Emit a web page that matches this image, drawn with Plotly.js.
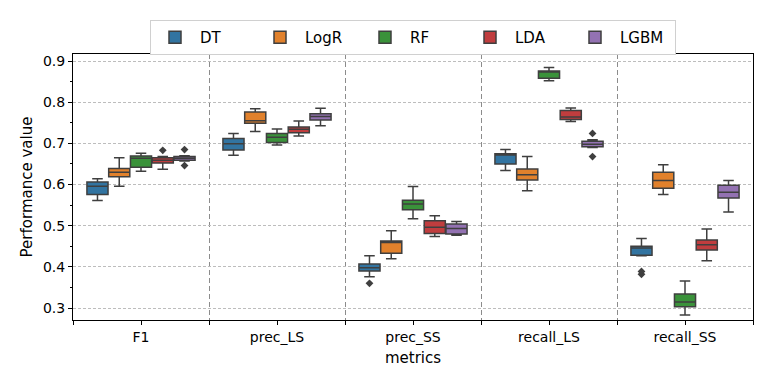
<!DOCTYPE html>
<html>
<head>
<meta charset="utf-8">
<script src="https://cdn.plot.ly/plotly-3.0.1.min.js"></script>
<style>
  html, body { margin: 0; padding: 0; background: #fff; }
  #chart { width: 772px; height: 386px; }
</style>
</head>
<body>
<div id="chart"></div>
<script>
const metrics = ["F1", "prec_LS", "prec_SS", "recall_LS", "recall_SS"];
const models = ["DT", "LogR", "RF", "LDA", "LGBM"];
const colors = ["#3274a1", "#e1812c", "#3a923a", "#c03d3e", "#9372b2"];

// one row per model, one column per metric
const lowerFence = [
  [0.561, 0.671, 0.376, 0.634, 0.427],
  [0.596, 0.729, 0.420, 0.585, 0.576],
  [0.632, 0.696, 0.517, 0.852, 0.283],
  [0.637, 0.718, 0.474, 0.753, 0.415],
  [0.657, 0.743, 0.477, 0.690, 0.533]
];
const q1 = [
  [0.576, 0.684, 0.390, 0.650, 0.428],
  [0.619, 0.749, 0.433, 0.611, 0.591],
  [0.642, 0.702, 0.539, 0.858, 0.303],
  [0.652, 0.726, 0.481, 0.758, 0.441],
  [0.659, 0.757, 0.480, 0.692, 0.567]
];
const median = [
  [0.596, 0.699, 0.398, 0.672, 0.446],
  [0.630, 0.755, 0.459, 0.624, 0.610],
  [0.664, 0.715, 0.553, 0.873, 0.315],
  [0.659, 0.734, 0.496, 0.764, 0.454],
  [0.664, 0.765, 0.493, 0.698, 0.581]
];
const q3 = [
  [0.606, 0.712, 0.407, 0.675, 0.450],
  [0.639, 0.776, 0.463, 0.638, 0.630],
  [0.669, 0.724, 0.562, 0.876, 0.334],
  [0.665, 0.740, 0.512, 0.780, 0.465],
  [0.668, 0.772, 0.504, 0.705, 0.598]
];
const upperFence = [
  [0.614, 0.724, 0.427, 0.685, 0.469],
  [0.665, 0.784, 0.488, 0.668, 0.648],
  [0.676, 0.735, 0.595, 0.884, 0.366],
  [0.668, 0.754, 0.524, 0.786, 0.492],
  [0.670, 0.785, 0.510, 0.709, 0.610]
];

// outlier points (model index, metric index, value)
const outlierModel = [0, 0, 0, 3, 4, 4, 4, 4];
const outlierMetric = [2, 4, 4, 0, 0, 0, 3, 3];
const outlierValue = [0.360, 0.382, 0.389, 0.683, 0.685, 0.646, 0.724, 0.668];

const boxWidth = 0.16;
const offset = m => (m - (models.length - 1) / 2) * boxWidth;

const traces = [];
models.forEach((name, m) => {
  traces.push({
    type: "box",
    name: name,
    x: metrics.map((_, j) => j + offset(m)),
    lowerfence: lowerFence[m],
    q1: q1[m],
    median: median[m],
    q3: q3[m],
    upperfence: upperFence[m],
    width: boxWidth * 0.97,
    whiskerwidth: 0.5,
    fillcolor: colors[m],
    line: { color: "#3f3f3f", width: 1.5 },
    boxpoints: false,
    hoverinfo: "y",
    legendgroup: name
  });
});

traces.push({
  type: "scatter",
  mode: "markers",
  x: outlierValue.map((_, i) => outlierMetric[i] + offset(outlierModel[i])),
  y: outlierValue,
  marker: { symbol: "diamond", size: 6, color: "#3f3f3f" },
  showlegend: false,
  hoverinfo: "y"
});

// category borders, including both edges of the axis
const borders = [-0.5, 0.5, 1.5, 2.5, 3.5, 4.5];

const layout = {
  width: 772,
  height: 386,
  margin: { l: 73, r: 19, t: 54, b: 66 },
  paper_bgcolor: "#fff",
  plot_bgcolor: "#fff",
  font: { family: "DejaVu Sans, sans-serif", size: 14, color: "#000" },
  showlegend: true,
  legend: {
    orientation: "h",
    x: 0.5, xanchor: "center",
    y: 1.128, yanchor: "top",
    bordercolor: "#d0d0d0", borderwidth: 1,
    bgcolor: "#fff",
    font: { size: 15 },
    entrywidth: 50, entrywidthmode: "pixels",
    itemwidth: 40
  },
  xaxis: {
    range: [-0.5, 4.5],
    tickvals: metrics.map((_, j) => j),
    ticktext: metrics,
    ticks: "outside", ticklen: 4, tickcolor: "#000",
    showgrid: false, zeroline: false,
    showline: true, linecolor: "#000", linewidth: 1, mirror: true,
    minor: {
      tickvals: borders,
      ticks: "outside", ticklen: 4, tickcolor: "#000",
      showgrid: true, gridcolor: "#8c8c8c", griddash: "5px,3px", gridwidth: 1
    },
    title: { text: "metrics", font: { size: 15 }, standoff: 8 }
  },
  yaxis: {
    range: [0.271, 0.917],
    tickvals: [0.3, 0.4, 0.5, 0.6, 0.7, 0.8, 0.9],
    ticktext: ["0.3", "0.4", "0.5", "0.6", "0.7", "0.8", "0.9"],
    ticks: "outside", ticklen: 4, tickcolor: "#000",
    showgrid: true, gridcolor: "#bdbdbd", griddash: "3px,2px", gridwidth: 1,
    zeroline: false,
    showline: true, linecolor: "#000", linewidth: 1, mirror: true,
    minor: { dtick: 0.05, tick0: 0.25, ticks: "outside", ticklen: 2, tickcolor: "#000", showgrid: false },
    title: { text: "Performance value", font: { size: 15 }, standoff: 6 }
  }
};

Plotly.newPlot("chart", traces, layout, { displayModeBar: false, staticPlot: true });
</script>
</body>
</html>
